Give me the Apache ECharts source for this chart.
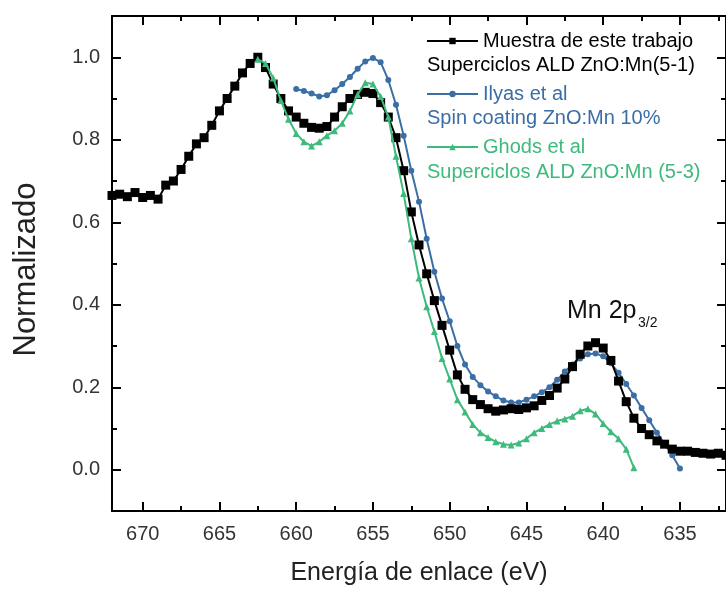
<!DOCTYPE html>
<html>
<head>
<meta charset="utf-8">
<script src="https://cdn.jsdelivr.net/npm/echarts@6/dist/echarts.min.js"></script>
<style>
  html, body { margin: 0; padding: 0; background: #ffffff; }
  #chart { width: 726px; height: 591px; }
</style>
</head>
<body>
<div id="chart"></div>
<script>
// Mn 2p XPS spectra, normalised intensity vs binding energy (eV)

const energyMuestra = [672, 671.5, 671, 670.5, 670, 669.5, 669, 668.5, 668, 667.5, 667, 666.5, 666, 665.5, 665, 664.5, 664, 663.5, 663, 662.5, 662, 661.5, 661, 660.5, 660, 659.5, 659, 658.5, 658, 657.5, 657, 656.5, 656, 655.5, 655, 654.5, 654, 653.5, 653, 652.5, 652, 651.5, 651, 650.5, 650, 649.5, 649, 648.5, 648, 647.5, 647, 646.5, 646, 645.5, 645, 644.5, 644, 643.5, 643, 642.5, 642, 641.5, 641, 640.5, 640, 639.5, 639, 638.5, 638, 637.5, 637, 636.5, 636, 635.5, 635, 634.5, 634, 633.5, 633, 632.5, 632];
const valuesMuestra = [0.665, 0.668, 0.662, 0.672, 0.660, 0.665, 0.656, 0.690, 0.700, 0.728, 0.760, 0.790, 0.805, 0.835, 0.870, 0.900, 0.930, 0.962, 0.985, 1.000, 0.975, 0.935, 0.900, 0.870, 0.855, 0.840, 0.830, 0.828, 0.832, 0.855, 0.880, 0.900, 0.910, 0.915, 0.912, 0.890, 0.855, 0.805, 0.725, 0.625, 0.545, 0.475, 0.410, 0.350, 0.290, 0.230, 0.195, 0.170, 0.158, 0.148, 0.142, 0.145, 0.148, 0.146, 0.150, 0.155, 0.168, 0.180, 0.198, 0.220, 0.250, 0.280, 0.300, 0.308, 0.295, 0.265, 0.215, 0.165, 0.125, 0.100, 0.085, 0.070, 0.062, 0.050, 0.045, 0.045, 0.042, 0.040, 0.038, 0.040, 0.035];

const energyIlyas = [660, 659.5, 659, 658.5, 658, 657.5, 657, 656.5, 656, 655.5, 655, 654.5, 654, 653.5, 653, 652.5, 652, 651.5, 651, 650.5, 650, 649.5, 649, 648.5, 648, 647.5, 647, 646.5, 646, 645.5, 645, 644.5, 644, 643.5, 643, 642.5, 642, 641.5, 641, 640.5, 640, 639.5, 639, 638.5, 638, 637.5, 637, 636.5, 636, 635.5, 635];
const valuesIlyas = [0.923, 0.918, 0.912, 0.905, 0.908, 0.920, 0.935, 0.952, 0.972, 0.990, 0.998, 0.988, 0.945, 0.885, 0.810, 0.725, 0.650, 0.560, 0.480, 0.415, 0.360, 0.300, 0.255, 0.225, 0.205, 0.190, 0.178, 0.168, 0.163, 0.163, 0.170, 0.178, 0.188, 0.200, 0.218, 0.238, 0.255, 0.270, 0.280, 0.282, 0.275, 0.258, 0.235, 0.208, 0.180, 0.150, 0.120, 0.090, 0.062, 0.035, 0.003];

const energyGhods = [662.5, 662, 661.5, 661, 660.5, 660, 659.5, 659, 658.5, 658, 657.5, 657, 656.5, 656, 655.5, 655, 654.5, 654, 653.5, 653, 652.5, 652, 651.5, 651, 650.5, 650, 649.5, 649, 648.5, 648, 647.5, 647, 646.5, 646, 645.5, 645, 644.5, 644, 643.5, 643, 642.5, 642, 641.5, 641, 640.5, 640, 639.5, 639, 638.5, 638];
const valuesGhods = [0.995, 0.985, 0.950, 0.895, 0.850, 0.815, 0.795, 0.785, 0.795, 0.810, 0.822, 0.840, 0.870, 0.910, 0.938, 0.935, 0.905, 0.855, 0.760, 0.670, 0.560, 0.465, 0.395, 0.335, 0.270, 0.220, 0.170, 0.140, 0.110, 0.090, 0.078, 0.068, 0.062, 0.060, 0.065, 0.075, 0.090, 0.100, 0.110, 0.118, 0.123, 0.130, 0.143, 0.148, 0.135, 0.112, 0.092, 0.075, 0.050, 0.005];

const seriesNames = ['Muestra de este trabajo', 'Ilyas et al', 'Ghods et al'];
const seriesSubtitles = ['Superciclos ALD ZnO:Mn(5-1)', 'Spin coating ZnO:Mn 10%', 'Superciclos ALD ZnO:Mn (5-3)'];

const xMajorTicks = [635, 640, 645, 650, 655, 660, 665, 670];
const xMinorTicks = [632.5, 637.5, 642.5, 647.5, 652.5, 657.5, 662.5, 667.5];
const yMajorTicks = [0, 0.2, 0.4, 0.6, 0.8, 1.0];
const yMinorTicks = [0.1, 0.3, 0.5, 0.7, 0.9];

const X_MIN = 632, X_MAX = 672;
const Y_MIN = -0.1, Y_MAX = 1.1;

const FONT = 'Liberation Sans, Arial, Helvetica, sans-serif';
const COLORS = ['#000000', '#3b6ea5', '#3dba7c'];

function pairs(xs, ys) { return xs.map((x, i) => [x, ys[i]]); }

function xAxisDef(position, ticks, len, withLabels, withLine) {
  return {
    type: 'value', position: position, inverse: true,
    min: X_MIN, max: X_MAX,
    axisLine: { show: withLine, onZero: false, lineStyle: { color: '#000', width: 2 } },
    axisTick: { show: true, inside: true, length: len, customValues: ticks,
                lineStyle: { color: '#000', width: 2 } },
    axisLabel: withLabels
      ? { show: true, customValues: ticks, margin: 13, fontSize: 20, color: '#333', fontFamily: FONT }
      : { show: false },
    splitLine: { show: false }
  };
}

function yAxisDef(position, ticks, len, withLabels, withLine) {
  return {
    type: 'value', position: position,
    min: Y_MIN, max: Y_MAX,
    axisLine: { show: withLine, onZero: false, lineStyle: { color: '#000', width: 2 } },
    axisTick: { show: true, inside: true, length: len, customValues: ticks,
                lineStyle: { color: '#000', width: 2 } },
    axisLabel: withLabels
      ? { show: true, customValues: ticks, margin: 12, fontSize: 20, color: '#333', fontFamily: FONT,
          formatter: v => v.toFixed(1) }
      : { show: false },
    splitLine: { show: false }
  };
}

const xAxes = [
  Object.assign(xAxisDef('bottom', xMajorTicks, 9, true, true), {
    name: 'Energía de enlace (eV)', nameLocation: 'middle', nameGap: 50,
    nameTextStyle: { fontSize: 25, color: '#222', fontFamily: FONT }
  }),
  xAxisDef('bottom', xMinorTicks, 5, false, false),
  xAxisDef('top', xMajorTicks, 9, false, true),
  xAxisDef('top', xMinorTicks, 5, false, false)
];

const yAxes = [
  Object.assign(yAxisDef('left', yMajorTicks, 9, true, true), {
    name: 'Normalizado', nameLocation: 'middle', nameGap: 70,
    nameTextStyle: { fontSize: 31, color: '#222', fontFamily: FONT, padding: [0, 12, 0, 0] }
  }),
  yAxisDef('left', yMinorTicks, 5, false, false),
  yAxisDef('right', yMajorTicks, 9, false, true),
  yAxisDef('right', yMinorTicks, 5, false, false)
];

const chart = echarts.init(document.getElementById('chart'), null, { renderer: 'canvas' });

chart.setOption({
  backgroundColor: '#ffffff',
  animation: false,
  grid: { left: 112, top: 16, right: -7, bottom: 74, containLabel: false },
  xAxis: xAxes,
  yAxis: yAxes,
  legend: {
    orient: 'vertical', left: 426, top: 29, padding: 0,
    itemWidth: 51, itemHeight: 8, itemGap: 29,
    selectedMode: false,
    textStyle: { fontSize: 20, fontFamily: FONT, lineHeight: 24 },
    data: seriesNames.map((n, i) => ({ name: n, textStyle: { color: COLORS[i] } }))
  },
  graphic: [
    ...seriesSubtitles.map((t, i) => ({
      type: 'text', left: 427, top: 55 + i * 53.5,
      style: { text: t, fill: COLORS[i], fontSize: 20, fontFamily: FONT }
    })),
    { type: 'text', left: 567, top: 299,
      style: { text: 'Mn 2p', fill: '#111', fontSize: 25, fontFamily: FONT } },
    { type: 'text', left: 638, top: 316,
      style: { text: '3/2', fill: '#111', fontSize: 14, fontFamily: FONT } }
  ],
  series: [
    {
      name: seriesNames[0], type: 'line', xAxisIndex: 0, yAxisIndex: 0,
      data: pairs(energyMuestra, valuesMuestra),
      symbol: 'rect', symbolSize: 9,
      lineStyle: { color: COLORS[0], width: 2 },
      itemStyle: { color: COLORS[0] },
      z: 3
    },
    {
      name: seriesNames[1], type: 'line', xAxisIndex: 0, yAxisIndex: 0,
      data: pairs(energyIlyas, valuesIlyas),
      symbol: 'circle', symbolSize: 6,
      lineStyle: { color: COLORS[1], width: 2 },
      itemStyle: { color: COLORS[1] },
      z: 2
    },
    {
      name: seriesNames[2], type: 'line', xAxisIndex: 0, yAxisIndex: 0,
      data: pairs(energyGhods, valuesGhods),
      symbol: 'triangle', symbolSize: 7,
      lineStyle: { color: COLORS[2], width: 2 },
      itemStyle: { color: COLORS[2] },
      z: 4
    }
  ]
});
</script>
</body>
</html>
